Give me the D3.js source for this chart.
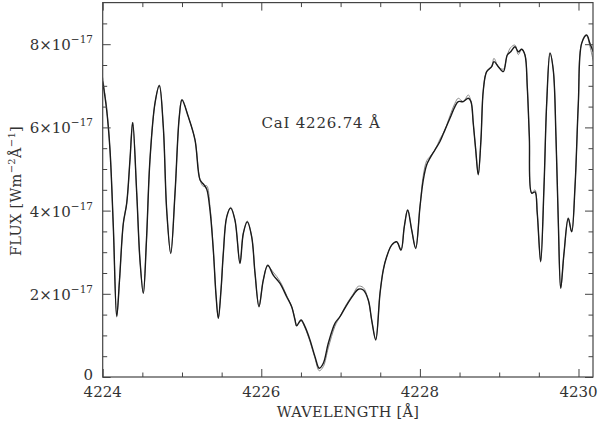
<!DOCTYPE html>
<html><head><meta charset="utf-8">
<script src="https://cdn.jsdelivr.net/npm/d3@7"></script>
<style>
body{margin:0;background:#fff;}
svg{display:block;}
text{font-family:"DejaVu Serif",serif;fill:#333;}
</style></head>
<body>
<svg id="c" width="600" height="423"></svg>
<script>
// wavelength (Å)
const wavelength = [4224.000,4224.050,4224.092,4224.134,4224.177,4224.212,4224.260,4224.303,4224.344,4224.378,4224.429,4224.470,4224.512,4224.552,4224.596,4224.660,4224.714,4224.764,4224.807,4224.858,4224.912,4224.966,4225.000,4225.079,4225.164,4225.227,4225.269,4225.311,4225.353,4225.395,4225.429,4225.458,4225.492,4225.521,4225.564,4225.614,4225.668,4225.731,4225.773,4225.823,4225.879,4225.921,4225.971,4226.025,4226.081,4226.151,4226.236,4226.320,4226.383,4226.425,4226.446,4226.501,4226.551,4226.614,4226.677,4226.731,4226.782,4226.845,4226.929,4226.992,4227.077,4227.160,4227.223,4227.286,4227.349,4227.392,4227.443,4227.497,4227.538,4227.581,4227.644,4227.707,4227.762,4227.803,4227.846,4227.897,4227.947,4228.001,4228.043,4228.086,4228.127,4228.190,4228.253,4228.316,4228.379,4228.442,4228.484,4228.547,4228.610,4228.644,4228.673,4228.704,4228.736,4228.770,4228.800,4228.842,4228.905,4228.934,4228.989,4229.052,4229.102,4229.145,4229.199,4229.241,4229.284,4229.325,4229.354,4229.380,4229.410,4229.451,4229.480,4229.523,4229.565,4229.599,4229.641,4229.682,4229.716,4229.745,4229.776,4229.817,4229.871,4229.914,4229.956,4229.998,4230.040,4230.103,4230.144,4230.186];
// observed flux (units of 1e-17 W m^-2 Å^-1)
const fluxObserved = [7.10,6.42,5.46,3.61,1.45,2.33,3.69,4.18,5.22,6.11,4.42,2.81,2.01,3.29,5.22,6.59,7.00,6.02,4.01,2.97,4.42,6.26,6.66,6.26,5.70,4.74,4.64,4.52,4.01,3.05,1.97,1.41,2.09,2.97,3.85,4.06,3.77,2.73,3.45,3.73,3.37,2.49,1.69,2.33,2.69,2.45,2.25,1.93,1.69,1.37,1.23,1.37,1.21,0.89,0.49,0.21,0.33,0.81,1.29,1.45,1.73,1.97,2.11,2.09,1.85,1.37,0.89,2.01,2.57,2.89,3.17,3.25,3.05,3.61,4.01,3.53,3.09,4.09,4.74,5.10,5.26,5.46,5.66,5.94,6.22,6.50,6.62,6.62,6.70,6.62,6.10,5.46,4.86,5.70,6.90,7.34,7.46,7.58,7.46,7.34,7.74,7.82,7.94,7.82,7.88,7.74,6.98,5.78,4.42,4.45,3.94,2.77,4.57,6.58,7.78,7.38,5.78,3.77,2.13,2.97,3.81,3.49,4.57,6.58,8.02,8.22,8.02,7.82];
// model flux (units of 1e-17)
const fluxModel = [7.20,6.45,5.46,3.61,1.48,2.33,3.69,4.18,5.22,6.13,4.42,2.81,2.03,3.29,5.22,6.59,7.02,6.02,4.01,2.99,4.42,6.26,6.68,6.26,5.70,4.74,4.58,4.60,4.10,3.05,1.97,1.43,2.09,2.97,3.85,4.08,3.77,2.75,3.45,3.75,3.37,2.49,1.71,2.33,2.66,2.52,2.30,1.96,1.69,1.40,1.25,1.35,1.18,0.85,0.45,0.15,0.25,0.70,1.22,1.45,1.76,2.00,2.18,2.15,1.85,1.37,0.91,2.01,2.57,2.89,3.17,3.25,3.07,3.61,4.03,3.53,3.11,4.09,4.85,5.20,5.30,5.46,5.72,5.94,6.28,6.58,6.70,6.62,6.78,6.62,6.10,5.46,4.88,5.70,6.90,7.34,7.46,7.66,7.46,7.40,7.74,7.92,7.98,7.75,7.88,7.74,6.98,5.78,4.42,4.50,3.94,2.79,4.57,6.58,7.80,7.38,5.78,3.77,2.15,2.97,3.83,3.49,4.57,6.58,8.02,8.20,7.95,7.60];

const xMajor = [4224,4226,4228,4230];
const xMinor = [4224.5,4225,4225.5,4226.5,4227,4227.5,4228.5,4229,4229.5];
const yMajor = [0,2,4,6,8];
const yMinor = [0.5,1,1.5,2.5,3,3.5,4.5,5,5.5,6.5,7,7.5,8.5];
const xLabels = ["4224","4226","4228","4230"];
const yLabels = ["0","2","4","6","8"];

const L=102.7,R=593,T=2.6,B=377;
const x = d3.scaleLinear().domain([4224,4230.183]).range([L,R]);
const y = d3.scaleLinear().domain([0,9]).range([B,T]);
const svg = d3.select("#c");
const frameCol="#444";

svg.append("defs").append("clipPath").attr("id","clip")
  .append("rect").attr("x",L).attr("y",T).attr("width",R-L).attr("height",B-T);

// lines
const line = (vals)=>d3.line().x((d,i)=>x(wavelength[i])).y(d=>y(d)).curve(d3.curveCatmullRom.alpha(0.5))(vals);
const g = svg.append("g").attr("clip-path","url(#clip)");
g.append("path").attr("d",line(fluxModel)).attr("fill","none").attr("stroke","#8a8a8a").attr("stroke-width",1);
g.append("path").attr("d",line(fluxObserved)).attr("fill","none").attr("stroke","#1a1a1a").attr("stroke-width",1.4);

// ticks via axes (inward, all four sides)
function ax(gen, vals, size, tr){
  const a = svg.append("g").attr("transform",tr).call(gen.tickValues(vals).tickSize(size).tickFormat(""));
  a.select(".domain").remove();
  a.selectAll(".tick line").attr("stroke",frameCol).attr("stroke-width",1);
}
ax(d3.axisBottom(x), xMajor, -8, `translate(0,${B})`);
ax(d3.axisBottom(x), xMinor, -4.5, `translate(0,${B})`);
ax(d3.axisTop(x), xMajor, -8, `translate(0,${T})`);
ax(d3.axisTop(x), xMinor, -4.5, `translate(0,${T})`);
ax(d3.axisLeft(y), yMajor, -8, `translate(${L},0)`);
ax(d3.axisLeft(y), yMinor, -4.5, `translate(${L},0)`);
ax(d3.axisRight(y), yMajor, -8, `translate(${R},0)`);
ax(d3.axisRight(y), yMinor, -4.5, `translate(${R},0)`);

svg.append("rect").attr("x",L).attr("y",T).attr("width",R-L).attr("height",B-T)
  .attr("fill","none").attr("stroke",frameCol).attr("stroke-width",1.2);

// x tick labels
svg.selectAll(".xl").data(xMajor).enter().append("text")
  .attr("x",d=>x(d)).attr("y",397).attr("text-anchor","middle").attr("font-size",15)
  .text((d,i)=>xLabels[i]);

// y tick labels
yMajor.forEach((v,i)=>{
  const t = svg.append("text").attr("x",93).attr("y",y(v)+(v===0?3:6)).attr("text-anchor","end").attr("font-size",15);
  if(v===0){ t.text(yLabels[i]); return; }
  t.append("tspan").text(yLabels[i]+"×10");
  t.append("tspan").attr("dy",-7).attr("font-size",10.5).text("−17");
});

// axis titles
svg.append("text").attr("x",348).attr("y",417).attr("text-anchor","middle").attr("font-size",14.5)
  .attr("letter-spacing",0.3).text("WAVELENGTH [Å]");
const yt = svg.append("text").attr("transform","translate(21,191) rotate(-90)").attr("text-anchor","middle").attr("font-size",14.5).attr("letter-spacing",0.3);
yt.append("tspan").text("FLUX [Wm");
yt.append("tspan").attr("dy",-6).attr("font-size",10).text("−2");
yt.append("tspan").attr("dy",6).text("Å");
yt.append("tspan").attr("dy",-6).attr("font-size",10).text("−1");
yt.append("tspan").attr("dy",6).text("]");

// annotation
svg.append("text").attr("x",321).attr("y",128).attr("text-anchor","middle").attr("font-size",15)
  .attr("letter-spacing",0.8).text("CaI 4226.74 Å");
</script>
</body></html>
